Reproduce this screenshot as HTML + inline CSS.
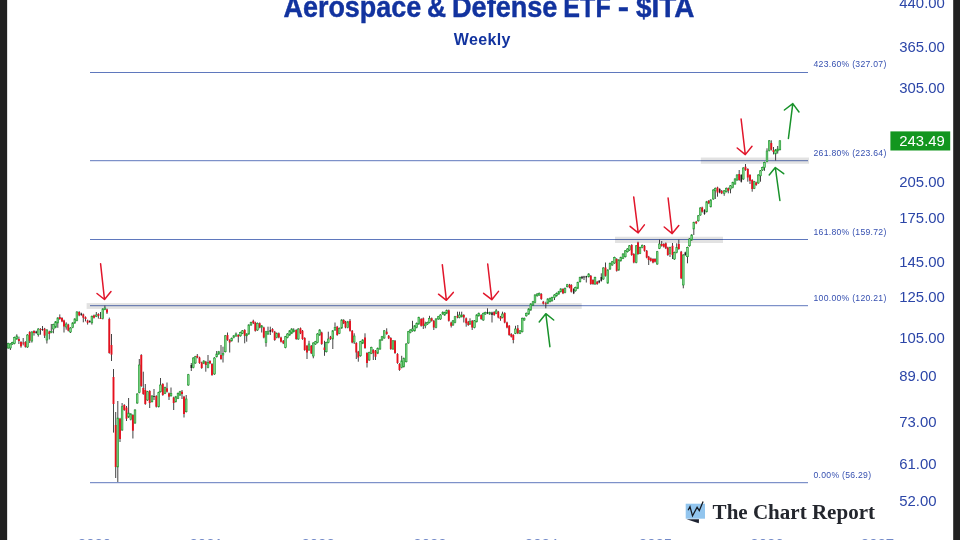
<!DOCTYPE html>
<html><head><meta charset="utf-8"><title>Aerospace &amp; Defense ETF - $ITA</title>
<style>
html,body{margin:0;padding:0;background:#fff;}
body{width:960px;height:540px;overflow:hidden;position:relative;font-family:"Liberation Sans",sans-serif;}
svg{position:absolute;left:0;top:0;display:block;will-change:transform;}
text{font-family:"Liberation Sans",sans-serif;}
.ax{font-size:14.2px;fill:#2c46a8;}
.fb{font-size:8.65px;fill:#3650b0;letter-spacing:0.28px;}
.yr{font-size:15px;fill:#7088c8;}
</style></head><body>
<svg width="960" height="540" viewBox="0 0 960 540">
<rect x="0" y="0" width="960" height="540" fill="#ffffff"/>

<line x1="90" y1="72.5" x2="808" y2="72.5" stroke="#5f78bd" stroke-width="1"/>
<text class="fb" x="813.5" y="67.2">423.60% (327.07)</text>
<line x1="90" y1="160.7" x2="808" y2="160.7" stroke="#5f78bd" stroke-width="1"/>
<text class="fb" x="813.5" y="155.8">261.80% (223.64)</text>
<line x1="90" y1="239.5" x2="808" y2="239.5" stroke="#5f78bd" stroke-width="1"/>
<text class="fb" x="813.5" y="234.6">161.80% (159.72)</text>
<line x1="90" y1="305.7" x2="808" y2="305.7" stroke="#5f78bd" stroke-width="1"/>
<text class="fb" x="813.5" y="300.6">100.00% (120.21)</text>
<line x1="90" y1="482.7" x2="808" y2="482.7" stroke="#5f78bd" stroke-width="1"/>
<text class="fb" x="813.5" y="477.6">0.00% (56.29)</text>
<rect x="86.6" y="303.1" width="495.1" height="5.8" fill="#000000" opacity="0.115"/>
<rect x="615.0" y="236.7" width="108.0" height="6.3" fill="#000000" opacity="0.115"/>
<rect x="700.8" y="157.5" width="108.2" height="6.3" fill="#000000" opacity="0.115"/>
<g>
<line x1="8.2" y1="342.7" x2="8.2" y2="348.8" stroke="#222222" stroke-width="0.85"/>
<rect x="7.35" y="343.5" width="1.7" height="4.5" fill="#84d48c" stroke="#1c9c2c" stroke-width="0.62"/>
<line x1="10.4" y1="343.2" x2="10.4" y2="350.0" stroke="#222222" stroke-width="0.85"/>
<rect x="9.55" y="344.0" width="1.7" height="4.0" fill="#84d48c" stroke="#1c9c2c" stroke-width="0.62"/>
<line x1="12.4" y1="341.8" x2="12.4" y2="344.8" stroke="#222222" stroke-width="0.85"/>
<rect x="11.55" y="342.6" width="1.7" height="1.4" fill="#84d48c" stroke="#1c9c2c" stroke-width="0.62"/>
<line x1="14.5" y1="336.7" x2="14.5" y2="344.3" stroke="#222222" stroke-width="0.85"/>
<rect x="13.65" y="337.5" width="1.7" height="6.0" fill="#84d48c" stroke="#1c9c2c" stroke-width="0.62"/>
<line x1="16.8" y1="334.3" x2="16.8" y2="339.8" stroke="#222222" stroke-width="0.85"/>
<rect x="15.95" y="336.0" width="1.7" height="3.0" fill="#84d48c" stroke="#1c9c2c" stroke-width="0.62"/>
<line x1="18.9" y1="336.6" x2="18.9" y2="344.0" stroke="#222222" stroke-width="0.85"/>
<rect x="17.95" y="339.0" width="1.9" height="2.0" fill="#e6101e"/>
<line x1="21.0" y1="341.2" x2="21.0" y2="347.7" stroke="#222222" stroke-width="0.85"/>
<rect x="20.05" y="342.0" width="1.9" height="4.3" fill="#e6101e"/>
<line x1="23.2" y1="338.0" x2="23.2" y2="345.4" stroke="#222222" stroke-width="0.85"/>
<rect x="22.25" y="342.6" width="1.9" height="0.9" fill="#e6101e"/>
<line x1="25.4" y1="341.2" x2="25.4" y2="347.6" stroke="#222222" stroke-width="0.85"/>
<rect x="24.45" y="342.0" width="1.9" height="4.8" fill="#e6101e"/>
<line x1="27.5" y1="334.2" x2="27.5" y2="347.8" stroke="#222222" stroke-width="0.85"/>
<rect x="26.65" y="335.0" width="1.7" height="12.0" fill="#84d48c" stroke="#1c9c2c" stroke-width="0.62"/>
<line x1="29.7" y1="331.2" x2="29.7" y2="343.0" stroke="#222222" stroke-width="0.85"/>
<rect x="28.75" y="332.0" width="1.9" height="8.7" fill="#e6101e"/>
<line x1="31.9" y1="331.2" x2="31.9" y2="342.6" stroke="#222222" stroke-width="0.85"/>
<rect x="31.05" y="332.0" width="1.7" height="9.0" fill="#84d48c" stroke="#1c9c2c" stroke-width="0.62"/>
<line x1="34.0" y1="330.2" x2="34.0" y2="335.6" stroke="#222222" stroke-width="0.85"/>
<rect x="33.05" y="331.0" width="1.9" height="2.0" fill="#e6101e"/>
<line x1="36.2" y1="330.7" x2="36.2" y2="333.8" stroke="#222222" stroke-width="0.85"/>
<rect x="35.45" y="331.5" width="1.5" height="1.5" fill="#222"/>
<line x1="38.3" y1="328.2" x2="38.3" y2="336.6" stroke="#222222" stroke-width="0.85"/>
<rect x="37.45" y="329.0" width="1.7" height="5.7" fill="#84d48c" stroke="#1c9c2c" stroke-width="0.62"/>
<line x1="40.5" y1="328.2" x2="40.5" y2="334.7" stroke="#222222" stroke-width="0.85"/>
<rect x="39.55" y="329.0" width="1.9" height="1.0" fill="#e6101e"/>
<line x1="42.5" y1="326.0" x2="42.5" y2="330.8" stroke="#222222" stroke-width="0.85"/>
<rect x="41.75" y="329.0" width="1.5" height="1.0" fill="#222"/>
<line x1="44.6" y1="327.9" x2="44.6" y2="338.0" stroke="#222222" stroke-width="0.85"/>
<rect x="43.65" y="328.7" width="1.9" height="6.9" fill="#e6101e"/>
<line x1="46.9" y1="329.2" x2="46.9" y2="343.5" stroke="#222222" stroke-width="0.85"/>
<rect x="46.05" y="330.0" width="1.7" height="10.0" fill="#84d48c" stroke="#1c9c2c" stroke-width="0.62"/>
<line x1="49.3" y1="330.7" x2="49.3" y2="339.4" stroke="#222222" stroke-width="0.85"/>
<rect x="48.35" y="331.5" width="1.9" height="2.5" fill="#e6101e"/>
<line x1="51.3" y1="324.0" x2="51.3" y2="333.2" stroke="#222222" stroke-width="0.85"/>
<rect x="50.45" y="331.5" width="1.7" height="0.9" fill="#84d48c" stroke="#1c9c2c" stroke-width="0.62"/>
<line x1="53.4" y1="323.7" x2="53.4" y2="333.3" stroke="#222222" stroke-width="0.85"/>
<rect x="52.55" y="324.5" width="1.7" height="4.5" fill="#84d48c" stroke="#1c9c2c" stroke-width="0.62"/>
<line x1="55.6" y1="321.0" x2="55.6" y2="328.2" stroke="#222222" stroke-width="0.85"/>
<rect x="54.75" y="321.8" width="1.7" height="5.5" fill="#84d48c" stroke="#1c9c2c" stroke-width="0.62"/>
<line x1="57.8" y1="317.2" x2="57.8" y2="327.8" stroke="#222222" stroke-width="0.85"/>
<rect x="56.95" y="318.0" width="1.7" height="5.0" fill="#84d48c" stroke="#1c9c2c" stroke-width="0.62"/>
<line x1="59.8" y1="314.4" x2="59.8" y2="319.8" stroke="#222222" stroke-width="0.85"/>
<rect x="58.85" y="317.0" width="1.9" height="2.0" fill="#e6101e"/>
<line x1="62.0" y1="317.2" x2="62.0" y2="322.2" stroke="#222222" stroke-width="0.85"/>
<rect x="61.05" y="318.0" width="1.9" height="3.4" fill="#e6101e"/>
<line x1="64.0" y1="319.7" x2="64.0" y2="332.5" stroke="#222222" stroke-width="0.85"/>
<rect x="63.05" y="320.5" width="1.9" height="6.0" fill="#e6101e"/>
<line x1="66.2" y1="322.3" x2="66.2" y2="329.7" stroke="#222222" stroke-width="0.85"/>
<rect x="65.35" y="324.0" width="1.7" height="3.0" fill="#84d48c" stroke="#1c9c2c" stroke-width="0.62"/>
<line x1="68.3" y1="323.8" x2="68.3" y2="331.4" stroke="#222222" stroke-width="0.85"/>
<rect x="67.35" y="324.6" width="1.9" height="6.0" fill="#e6101e"/>
<line x1="70.5" y1="327.2" x2="70.5" y2="333.0" stroke="#222222" stroke-width="0.85"/>
<rect x="69.65" y="328.0" width="1.7" height="4.0" fill="#84d48c" stroke="#1c9c2c" stroke-width="0.62"/>
<line x1="72.7" y1="322.2" x2="72.7" y2="328.2" stroke="#222222" stroke-width="0.85"/>
<rect x="71.85" y="323.0" width="1.7" height="4.4" fill="#84d48c" stroke="#1c9c2c" stroke-width="0.62"/>
<line x1="74.8" y1="318.2" x2="74.8" y2="323.8" stroke="#222222" stroke-width="0.85"/>
<rect x="73.95" y="319.0" width="1.7" height="4.0" fill="#84d48c" stroke="#1c9c2c" stroke-width="0.62"/>
<line x1="76.9" y1="311.2" x2="76.9" y2="321.3" stroke="#222222" stroke-width="0.85"/>
<rect x="76.05" y="312.0" width="1.7" height="8.5" fill="#84d48c" stroke="#1c9c2c" stroke-width="0.62"/>
<line x1="79.2" y1="311.2" x2="79.2" y2="316.2" stroke="#222222" stroke-width="0.85"/>
<rect x="78.25" y="312.0" width="1.9" height="3.4" fill="#e6101e"/>
<line x1="81.3" y1="312.7" x2="81.3" y2="315.8" stroke="#222222" stroke-width="0.85"/>
<rect x="80.55" y="313.5" width="1.5" height="1.5" fill="#222"/>
<line x1="83.3" y1="313.6" x2="83.3" y2="322.3" stroke="#222222" stroke-width="0.85"/>
<rect x="82.35" y="314.4" width="1.9" height="3.3" fill="#e6101e"/>
<line x1="85.5" y1="316.4" x2="85.5" y2="321.4" stroke="#222222" stroke-width="0.85"/>
<rect x="84.55" y="317.2" width="1.9" height="1.8" fill="#e6101e"/>
<line x1="87.6" y1="319.7" x2="87.6" y2="324.6" stroke="#222222" stroke-width="0.85"/>
<rect x="86.65" y="320.5" width="1.9" height="2.3" fill="#e6101e"/>
<line x1="89.8" y1="320.2" x2="89.8" y2="322.8" stroke="#222222" stroke-width="0.85"/>
<rect x="89.05" y="321.0" width="1.5" height="1.0" fill="#222"/>
<line x1="91.9" y1="315.5" x2="91.9" y2="324.6" stroke="#222222" stroke-width="0.85"/>
<rect x="91.05" y="316.3" width="1.7" height="6.5" fill="#84d48c" stroke="#1c9c2c" stroke-width="0.62"/>
<line x1="94.0" y1="314.6" x2="94.0" y2="318.5" stroke="#222222" stroke-width="0.85"/>
<rect x="93.05" y="315.4" width="1.9" height="2.3" fill="#e6101e"/>
<line x1="96.3" y1="312.0" x2="96.3" y2="317.1" stroke="#222222" stroke-width="0.85"/>
<rect x="95.45" y="315.0" width="1.7" height="1.3" fill="#84d48c" stroke="#1c9c2c" stroke-width="0.62"/>
<line x1="98.4" y1="313.2" x2="98.4" y2="318.6" stroke="#222222" stroke-width="0.85"/>
<rect x="97.45" y="314.0" width="1.9" height="1.8" fill="#e6101e"/>
<line x1="100.5" y1="312.0" x2="100.5" y2="319.0" stroke="#222222" stroke-width="0.85"/>
<rect x="99.55" y="318.0" width="1.9" height="1.0" fill="#e6101e"/>
<line x1="102.8" y1="308.2" x2="102.8" y2="319.4" stroke="#222222" stroke-width="0.85"/>
<rect x="101.95" y="309.0" width="1.7" height="9.6" fill="#84d48c" stroke="#1c9c2c" stroke-width="0.62"/>
<line x1="104.9" y1="305.6" x2="104.9" y2="310.2" stroke="#222222" stroke-width="0.85"/>
<rect x="104.05" y="308.0" width="1.7" height="1.4" fill="#84d48c" stroke="#1c9c2c" stroke-width="0.62"/>
<line x1="107.0" y1="308.6" x2="107.0" y2="314.0" stroke="#222222" stroke-width="0.85"/>
<rect x="106.05" y="309.4" width="1.9" height="3.2" fill="#e6101e"/>
<line x1="109.3" y1="317.6" x2="109.3" y2="353.7" stroke="#222222" stroke-width="0.85"/>
<rect x="108.35" y="319.0" width="1.9" height="34.0" fill="#e6101e"/>
<line x1="111.5" y1="334.0" x2="111.5" y2="361.0" stroke="#222222" stroke-width="0.85"/>
<rect x="110.55" y="345.0" width="1.9" height="9.6" fill="#e6101e"/>
<line x1="113.5" y1="369.0" x2="113.5" y2="432.6" stroke="#222222" stroke-width="0.85"/>
<rect x="112.55" y="377.0" width="1.9" height="27.0" fill="#e6101e"/>
<line x1="115.7" y1="412.0" x2="115.7" y2="478.0" stroke="#222222" stroke-width="0.85"/>
<rect x="114.75" y="425.0" width="1.9" height="42.0" fill="#e6101e"/>
<line x1="117.8" y1="401.0" x2="117.8" y2="482.0" stroke="#222222" stroke-width="0.85"/>
<rect x="116.95" y="418.0" width="1.7" height="49.0" fill="#84d48c" stroke="#1c9c2c" stroke-width="0.62"/>
<line x1="120.0" y1="417.9" x2="120.0" y2="442.0" stroke="#222222" stroke-width="0.85"/>
<rect x="119.05" y="418.7" width="1.9" height="20.3" fill="#e6101e"/>
<line x1="122.1" y1="403.0" x2="122.1" y2="430.8" stroke="#222222" stroke-width="0.85"/>
<rect x="121.25" y="406.7" width="1.7" height="23.3" fill="#84d48c" stroke="#1c9c2c" stroke-width="0.62"/>
<line x1="124.3" y1="404.2" x2="124.3" y2="410.8" stroke="#222222" stroke-width="0.85"/>
<rect x="123.35" y="405.0" width="1.9" height="5.0" fill="#e6101e"/>
<line x1="126.5" y1="406.0" x2="126.5" y2="421.0" stroke="#222222" stroke-width="0.85"/>
<rect x="125.55" y="407.6" width="1.9" height="11.1" fill="#e6101e"/>
<line x1="128.6" y1="398.0" x2="128.6" y2="418.0" stroke="#222222" stroke-width="0.85"/>
<rect x="127.75" y="413.0" width="1.7" height="4.0" fill="#84d48c" stroke="#1c9c2c" stroke-width="0.62"/>
<line x1="130.8" y1="413.2" x2="130.8" y2="420.4" stroke="#222222" stroke-width="0.85"/>
<rect x="129.95" y="414.0" width="1.7" height="5.6" fill="#84d48c" stroke="#1c9c2c" stroke-width="0.62"/>
<line x1="132.9" y1="414.2" x2="132.9" y2="438.5" stroke="#222222" stroke-width="0.85"/>
<rect x="131.95" y="415.0" width="1.9" height="15.7" fill="#e6101e"/>
<line x1="135.0" y1="409.2" x2="135.0" y2="423.8" stroke="#222222" stroke-width="0.85"/>
<rect x="134.15" y="410.0" width="1.7" height="13.0" fill="#84d48c" stroke="#1c9c2c" stroke-width="0.62"/>
<line x1="137.2" y1="393.2" x2="137.2" y2="403.8" stroke="#222222" stroke-width="0.85"/>
<rect x="136.35" y="394.0" width="1.7" height="9.0" fill="#84d48c" stroke="#1c9c2c" stroke-width="0.62"/>
<line x1="139.3" y1="359.0" x2="139.3" y2="393.3" stroke="#222222" stroke-width="0.85"/>
<rect x="138.45" y="365.0" width="1.7" height="27.5" fill="#84d48c" stroke="#1c9c2c" stroke-width="0.62"/>
<line x1="141.3" y1="354.2" x2="141.3" y2="386.8" stroke="#222222" stroke-width="0.85"/>
<rect x="140.35" y="355.0" width="1.9" height="31.0" fill="#e6101e"/>
<line x1="143.3" y1="371.7" x2="143.3" y2="394.8" stroke="#222222" stroke-width="0.85"/>
<rect x="142.35" y="388.0" width="1.9" height="6.0" fill="#e6101e"/>
<line x1="145.3" y1="384.0" x2="145.3" y2="404.8" stroke="#222222" stroke-width="0.85"/>
<rect x="144.35" y="390.0" width="1.9" height="14.0" fill="#e6101e"/>
<line x1="147.5" y1="390.9" x2="147.5" y2="400.8" stroke="#222222" stroke-width="0.85"/>
<rect x="146.65" y="391.7" width="1.7" height="8.3" fill="#84d48c" stroke="#1c9c2c" stroke-width="0.62"/>
<line x1="149.7" y1="390.2" x2="149.7" y2="408.0" stroke="#222222" stroke-width="0.85"/>
<rect x="148.75" y="391.0" width="1.9" height="12.0" fill="#e6101e"/>
<line x1="152.0" y1="395.2" x2="152.0" y2="402.5" stroke="#222222" stroke-width="0.85"/>
<rect x="151.15" y="396.0" width="1.7" height="5.7" fill="#84d48c" stroke="#1c9c2c" stroke-width="0.62"/>
<line x1="154.0" y1="389.0" x2="154.0" y2="400.0" stroke="#222222" stroke-width="0.85"/>
<rect x="153.25" y="396.0" width="1.5" height="1.0" fill="#222"/>
<line x1="156.3" y1="395.2" x2="156.3" y2="407.5" stroke="#222222" stroke-width="0.85"/>
<rect x="155.35" y="396.0" width="1.9" height="10.7" fill="#e6101e"/>
<line x1="158.7" y1="391.7" x2="158.7" y2="407.5" stroke="#222222" stroke-width="0.85"/>
<rect x="157.85" y="392.5" width="1.7" height="14.2" fill="#84d48c" stroke="#1c9c2c" stroke-width="0.62"/>
<line x1="160.5" y1="378.0" x2="160.5" y2="392.5" stroke="#222222" stroke-width="0.85"/>
<rect x="159.65" y="385.0" width="1.7" height="6.7" fill="#84d48c" stroke="#1c9c2c" stroke-width="0.62"/>
<line x1="162.8" y1="383.2" x2="162.8" y2="395.8" stroke="#222222" stroke-width="0.85"/>
<rect x="161.85" y="384.0" width="1.9" height="11.0" fill="#e6101e"/>
<line x1="165.0" y1="386.7" x2="165.0" y2="394.1" stroke="#222222" stroke-width="0.85"/>
<rect x="164.15" y="387.5" width="1.7" height="5.8" fill="#84d48c" stroke="#1c9c2c" stroke-width="0.62"/>
<line x1="167.0" y1="382.5" x2="167.0" y2="392.5" stroke="#222222" stroke-width="0.85"/>
<rect x="166.05" y="388.3" width="1.9" height="3.4" fill="#e6101e"/>
<line x1="169.0" y1="392.5" x2="169.0" y2="400.0" stroke="#222222" stroke-width="0.85"/>
<rect x="168.05" y="393.3" width="1.9" height="3.4" fill="#e6101e"/>
<line x1="171.0" y1="387.5" x2="171.0" y2="396.6" stroke="#222222" stroke-width="0.85"/>
<rect x="170.15" y="393.3" width="1.7" height="2.5" fill="#84d48c" stroke="#1c9c2c" stroke-width="0.62"/>
<line x1="173.7" y1="396.7" x2="173.7" y2="410.0" stroke="#222222" stroke-width="0.85"/>
<rect x="172.75" y="397.5" width="1.9" height="5.5" fill="#e6101e"/>
<line x1="175.8" y1="395.9" x2="175.8" y2="402.5" stroke="#222222" stroke-width="0.85"/>
<rect x="174.95" y="396.7" width="1.7" height="5.0" fill="#84d48c" stroke="#1c9c2c" stroke-width="0.62"/>
<line x1="178.0" y1="392.5" x2="178.0" y2="399.1" stroke="#222222" stroke-width="0.85"/>
<rect x="177.15" y="393.3" width="1.7" height="5.0" fill="#84d48c" stroke="#1c9c2c" stroke-width="0.62"/>
<line x1="180.0" y1="390.9" x2="180.0" y2="395.8" stroke="#222222" stroke-width="0.85"/>
<rect x="179.15" y="391.7" width="1.7" height="3.3" fill="#84d48c" stroke="#1c9c2c" stroke-width="0.62"/>
<line x1="182.0" y1="390.0" x2="182.0" y2="399.0" stroke="#222222" stroke-width="0.85"/>
<rect x="181.05" y="391.7" width="1.9" height="2.3" fill="#e6101e"/>
<line x1="184.0" y1="395.9" x2="184.0" y2="417.5" stroke="#222222" stroke-width="0.85"/>
<rect x="183.05" y="396.7" width="1.9" height="17.3" fill="#e6101e"/>
<line x1="186.2" y1="395.0" x2="186.2" y2="412.5" stroke="#222222" stroke-width="0.85"/>
<rect x="185.35" y="399.0" width="1.7" height="12.7" fill="#84d48c" stroke="#1c9c2c" stroke-width="0.62"/>
<line x1="188.3" y1="373.9" x2="188.3" y2="385.8" stroke="#222222" stroke-width="0.85"/>
<rect x="187.45" y="374.7" width="1.7" height="10.3" fill="#84d48c" stroke="#1c9c2c" stroke-width="0.62"/>
<line x1="191.3" y1="363.0" x2="191.3" y2="371.0" stroke="#222222" stroke-width="0.85"/>
<rect x="190.55" y="365.0" width="1.5" height="3.0" fill="#222"/>
<line x1="193.3" y1="357.2" x2="193.3" y2="368.3" stroke="#222222" stroke-width="0.85"/>
<rect x="192.45" y="358.0" width="1.7" height="9.5" fill="#84d48c" stroke="#1c9c2c" stroke-width="0.62"/>
<line x1="195.3" y1="355.9" x2="195.3" y2="363.8" stroke="#222222" stroke-width="0.85"/>
<rect x="194.45" y="356.7" width="1.7" height="6.3" fill="#84d48c" stroke="#1c9c2c" stroke-width="0.62"/>
<line x1="197.3" y1="354.0" x2="197.3" y2="358.3" stroke="#222222" stroke-width="0.85"/>
<rect x="196.35" y="355.8" width="1.9" height="1.7" fill="#e6101e"/>
<line x1="199.5" y1="356.7" x2="199.5" y2="363.8" stroke="#222222" stroke-width="0.85"/>
<rect x="198.55" y="357.5" width="1.9" height="5.5" fill="#e6101e"/>
<line x1="201.7" y1="361.7" x2="201.7" y2="368.8" stroke="#222222" stroke-width="0.85"/>
<rect x="200.75" y="362.5" width="1.9" height="5.5" fill="#e6101e"/>
<line x1="203.8" y1="360.2" x2="203.8" y2="364.1" stroke="#222222" stroke-width="0.85"/>
<rect x="202.95" y="361.0" width="1.7" height="2.3" fill="#84d48c" stroke="#1c9c2c" stroke-width="0.62"/>
<line x1="205.8" y1="360.9" x2="205.8" y2="371.7" stroke="#222222" stroke-width="0.85"/>
<rect x="204.85" y="361.7" width="1.9" height="3.3" fill="#e6101e"/>
<line x1="208.0" y1="355.0" x2="208.0" y2="368.3" stroke="#222222" stroke-width="0.85"/>
<rect x="207.15" y="362.5" width="1.7" height="5.0" fill="#84d48c" stroke="#1c9c2c" stroke-width="0.62"/>
<line x1="210.0" y1="360.2" x2="210.0" y2="364.1" stroke="#222222" stroke-width="0.85"/>
<rect x="209.05" y="361.0" width="1.9" height="2.3" fill="#e6101e"/>
<line x1="212.0" y1="363.2" x2="212.0" y2="375.8" stroke="#222222" stroke-width="0.85"/>
<rect x="211.05" y="364.0" width="1.9" height="11.0" fill="#e6101e"/>
<line x1="214.5" y1="357.2" x2="214.5" y2="374.8" stroke="#222222" stroke-width="0.85"/>
<rect x="213.65" y="358.0" width="1.7" height="16.0" fill="#84d48c" stroke="#1c9c2c" stroke-width="0.62"/>
<line x1="216.7" y1="351.0" x2="216.7" y2="357.5" stroke="#222222" stroke-width="0.85"/>
<rect x="215.85" y="354.0" width="1.7" height="2.7" fill="#84d48c" stroke="#1c9c2c" stroke-width="0.62"/>
<line x1="218.8" y1="350.9" x2="218.8" y2="354.8" stroke="#222222" stroke-width="0.85"/>
<rect x="217.95" y="351.7" width="1.7" height="2.3" fill="#84d48c" stroke="#1c9c2c" stroke-width="0.62"/>
<line x1="221.0" y1="345.0" x2="221.0" y2="359.8" stroke="#222222" stroke-width="0.85"/>
<rect x="220.05" y="355.0" width="1.9" height="4.0" fill="#e6101e"/>
<line x1="223.0" y1="346.7" x2="223.0" y2="362.5" stroke="#222222" stroke-width="0.85"/>
<rect x="222.15" y="353.3" width="1.7" height="1.7" fill="#84d48c" stroke="#1c9c2c" stroke-width="0.62"/>
<line x1="225.3" y1="335.0" x2="225.3" y2="352.5" stroke="#222222" stroke-width="0.85"/>
<rect x="224.45" y="335.8" width="1.7" height="15.9" fill="#84d48c" stroke="#1c9c2c" stroke-width="0.62"/>
<line x1="227.5" y1="332.5" x2="227.5" y2="340.8" stroke="#222222" stroke-width="0.85"/>
<rect x="226.55" y="335.0" width="1.9" height="5.0" fill="#e6101e"/>
<line x1="229.7" y1="339.2" x2="229.7" y2="352.5" stroke="#222222" stroke-width="0.85"/>
<rect x="228.75" y="340.0" width="1.9" height="2.5" fill="#e6101e"/>
<line x1="231.7" y1="337.5" x2="231.7" y2="341.6" stroke="#222222" stroke-width="0.85"/>
<rect x="230.85" y="338.3" width="1.7" height="2.5" fill="#84d48c" stroke="#1c9c2c" stroke-width="0.62"/>
<line x1="233.8" y1="335.0" x2="233.8" y2="338.3" stroke="#222222" stroke-width="0.85"/>
<rect x="232.95" y="335.8" width="1.7" height="1.7" fill="#84d48c" stroke="#1c9c2c" stroke-width="0.62"/>
<line x1="236.0" y1="332.5" x2="236.0" y2="336.8" stroke="#222222" stroke-width="0.85"/>
<rect x="235.15" y="334.0" width="1.7" height="2.0" fill="#84d48c" stroke="#1c9c2c" stroke-width="0.62"/>
<line x1="238.3" y1="334.2" x2="238.3" y2="342.5" stroke="#222222" stroke-width="0.85"/>
<rect x="237.35" y="335.0" width="1.9" height="1.7" fill="#e6101e"/>
<line x1="240.5" y1="331.7" x2="240.5" y2="336.6" stroke="#222222" stroke-width="0.85"/>
<rect x="239.65" y="332.5" width="1.7" height="3.3" fill="#84d48c" stroke="#1c9c2c" stroke-width="0.62"/>
<line x1="242.5" y1="330.0" x2="242.5" y2="334.1" stroke="#222222" stroke-width="0.85"/>
<rect x="241.65" y="330.8" width="1.7" height="2.5" fill="#84d48c" stroke="#1c9c2c" stroke-width="0.62"/>
<line x1="244.7" y1="329.2" x2="244.7" y2="343.3" stroke="#222222" stroke-width="0.85"/>
<rect x="243.75" y="330.0" width="1.9" height="5.8" fill="#e6101e"/>
<line x1="246.7" y1="333.2" x2="246.7" y2="341.7" stroke="#222222" stroke-width="0.85"/>
<rect x="245.85" y="334.0" width="1.7" height="1.8" fill="#84d48c" stroke="#1c9c2c" stroke-width="0.62"/>
<line x1="248.8" y1="324.2" x2="248.8" y2="334.8" stroke="#222222" stroke-width="0.85"/>
<rect x="247.95" y="325.0" width="1.7" height="9.0" fill="#84d48c" stroke="#1c9c2c" stroke-width="0.62"/>
<line x1="251.0" y1="321.7" x2="251.0" y2="325.8" stroke="#222222" stroke-width="0.85"/>
<rect x="250.15" y="322.5" width="1.7" height="2.5" fill="#84d48c" stroke="#1c9c2c" stroke-width="0.62"/>
<line x1="253.3" y1="319.7" x2="253.3" y2="324.1" stroke="#222222" stroke-width="0.85"/>
<rect x="252.35" y="320.8" width="1.9" height="2.5" fill="#e6101e"/>
<line x1="255.3" y1="321.7" x2="255.3" y2="331.6" stroke="#222222" stroke-width="0.85"/>
<rect x="254.35" y="322.5" width="1.9" height="8.3" fill="#e6101e"/>
<line x1="257.5" y1="322.5" x2="257.5" y2="330.8" stroke="#222222" stroke-width="0.85"/>
<rect x="256.65" y="323.3" width="1.7" height="6.7" fill="#84d48c" stroke="#1c9c2c" stroke-width="0.62"/>
<line x1="259.7" y1="322.5" x2="259.7" y2="328.3" stroke="#222222" stroke-width="0.85"/>
<rect x="258.75" y="323.3" width="1.9" height="4.2" fill="#e6101e"/>
<line x1="261.7" y1="325.0" x2="261.7" y2="332.5" stroke="#222222" stroke-width="0.85"/>
<rect x="260.85" y="325.8" width="1.7" height="1.7" fill="#84d48c" stroke="#1c9c2c" stroke-width="0.62"/>
<line x1="263.8" y1="326.7" x2="263.8" y2="338.3" stroke="#222222" stroke-width="0.85"/>
<rect x="262.85" y="327.5" width="1.9" height="10.0" fill="#e6101e"/>
<line x1="266.0" y1="330.9" x2="266.0" y2="346.7" stroke="#222222" stroke-width="0.85"/>
<rect x="265.15" y="331.7" width="1.7" height="10.8" fill="#84d48c" stroke="#1c9c2c" stroke-width="0.62"/>
<line x1="268.0" y1="326.7" x2="268.0" y2="334.8" stroke="#222222" stroke-width="0.85"/>
<rect x="267.15" y="331.7" width="1.7" height="2.3" fill="#84d48c" stroke="#1c9c2c" stroke-width="0.62"/>
<line x1="270.3" y1="326.7" x2="270.3" y2="335.0" stroke="#222222" stroke-width="0.85"/>
<rect x="269.55" y="330.0" width="1.5" height="2.0" fill="#222"/>
<line x1="272.5" y1="328.2" x2="272.5" y2="332.5" stroke="#222222" stroke-width="0.85"/>
<rect x="271.55" y="329.0" width="1.9" height="2.7" fill="#e6101e"/>
<line x1="274.7" y1="330.9" x2="274.7" y2="340.8" stroke="#222222" stroke-width="0.85"/>
<rect x="273.75" y="331.7" width="1.9" height="8.3" fill="#e6101e"/>
<line x1="276.7" y1="332.5" x2="276.7" y2="338.3" stroke="#222222" stroke-width="0.85"/>
<rect x="275.85" y="333.3" width="1.7" height="4.2" fill="#84d48c" stroke="#1c9c2c" stroke-width="0.62"/>
<line x1="278.8" y1="332.5" x2="278.8" y2="338.3" stroke="#222222" stroke-width="0.85"/>
<rect x="277.85" y="333.3" width="1.9" height="4.2" fill="#e6101e"/>
<line x1="281.0" y1="336.7" x2="281.0" y2="342.5" stroke="#222222" stroke-width="0.85"/>
<rect x="280.05" y="337.5" width="1.9" height="4.2" fill="#e6101e"/>
<line x1="283.3" y1="340.0" x2="283.3" y2="344.1" stroke="#222222" stroke-width="0.85"/>
<rect x="282.35" y="340.8" width="1.9" height="2.5" fill="#e6101e"/>
<line x1="285.5" y1="335.9" x2="285.5" y2="348.3" stroke="#222222" stroke-width="0.85"/>
<rect x="284.65" y="336.7" width="1.7" height="10.8" fill="#84d48c" stroke="#1c9c2c" stroke-width="0.62"/>
<line x1="287.5" y1="333.2" x2="287.5" y2="338.3" stroke="#222222" stroke-width="0.85"/>
<rect x="286.65" y="334.0" width="1.7" height="3.5" fill="#84d48c" stroke="#1c9c2c" stroke-width="0.62"/>
<line x1="289.7" y1="330.0" x2="289.7" y2="335.8" stroke="#222222" stroke-width="0.85"/>
<rect x="288.85" y="330.8" width="1.7" height="4.2" fill="#84d48c" stroke="#1c9c2c" stroke-width="0.62"/>
<line x1="291.7" y1="328.2" x2="291.7" y2="334.1" stroke="#222222" stroke-width="0.85"/>
<rect x="290.85" y="329.0" width="1.7" height="4.3" fill="#84d48c" stroke="#1c9c2c" stroke-width="0.62"/>
<line x1="293.7" y1="328.3" x2="293.7" y2="332.5" stroke="#222222" stroke-width="0.85"/>
<rect x="292.85" y="330.0" width="1.7" height="1.7" fill="#84d48c" stroke="#1c9c2c" stroke-width="0.62"/>
<line x1="296.2" y1="329.2" x2="296.2" y2="339.8" stroke="#222222" stroke-width="0.85"/>
<rect x="295.25" y="330.0" width="1.9" height="9.0" fill="#e6101e"/>
<line x1="298.3" y1="328.2" x2="298.3" y2="339.8" stroke="#222222" stroke-width="0.85"/>
<rect x="297.45" y="329.0" width="1.7" height="10.0" fill="#84d48c" stroke="#1c9c2c" stroke-width="0.62"/>
<line x1="300.5" y1="327.5" x2="300.5" y2="334.1" stroke="#222222" stroke-width="0.85"/>
<rect x="299.55" y="328.3" width="1.9" height="5.0" fill="#e6101e"/>
<line x1="302.5" y1="330.0" x2="302.5" y2="339.8" stroke="#222222" stroke-width="0.85"/>
<rect x="301.55" y="330.8" width="1.9" height="8.2" fill="#e6101e"/>
<line x1="304.7" y1="337.2" x2="304.7" y2="350.8" stroke="#222222" stroke-width="0.85"/>
<rect x="303.75" y="338.0" width="1.9" height="12.0" fill="#e6101e"/>
<line x1="307.0" y1="345.0" x2="307.0" y2="359.0" stroke="#222222" stroke-width="0.85"/>
<rect x="306.05" y="345.8" width="1.9" height="6.7" fill="#e6101e"/>
<line x1="309.0" y1="340.8" x2="309.0" y2="350.8" stroke="#222222" stroke-width="0.85"/>
<rect x="308.15" y="344.0" width="1.7" height="6.0" fill="#84d48c" stroke="#1c9c2c" stroke-width="0.62"/>
<line x1="311.3" y1="345.0" x2="311.3" y2="354.1" stroke="#222222" stroke-width="0.85"/>
<rect x="310.35" y="345.8" width="1.9" height="7.5" fill="#e6101e"/>
<line x1="313.3" y1="342.2" x2="313.3" y2="358.3" stroke="#222222" stroke-width="0.85"/>
<rect x="312.45" y="343.0" width="1.7" height="13.0" fill="#84d48c" stroke="#1c9c2c" stroke-width="0.62"/>
<line x1="315.5" y1="340.9" x2="315.5" y2="344.8" stroke="#222222" stroke-width="0.85"/>
<rect x="314.65" y="341.7" width="1.7" height="2.3" fill="#84d48c" stroke="#1c9c2c" stroke-width="0.62"/>
<line x1="317.5" y1="333.2" x2="317.5" y2="343.3" stroke="#222222" stroke-width="0.85"/>
<rect x="316.65" y="334.0" width="1.7" height="8.5" fill="#84d48c" stroke="#1c9c2c" stroke-width="0.62"/>
<line x1="319.7" y1="329.2" x2="319.7" y2="335.8" stroke="#222222" stroke-width="0.85"/>
<rect x="318.85" y="330.0" width="1.7" height="5.0" fill="#84d48c" stroke="#1c9c2c" stroke-width="0.62"/>
<line x1="321.7" y1="331.7" x2="321.7" y2="344.8" stroke="#222222" stroke-width="0.85"/>
<rect x="320.75" y="332.5" width="1.9" height="11.5" fill="#e6101e"/>
<line x1="324.5" y1="340.8" x2="324.5" y2="355.8" stroke="#222222" stroke-width="0.85"/>
<rect x="323.55" y="347.5" width="1.9" height="2.5" fill="#e6101e"/>
<line x1="326.3" y1="341.7" x2="326.3" y2="352.5" stroke="#222222" stroke-width="0.85"/>
<rect x="325.45" y="342.5" width="1.7" height="9.2" fill="#84d48c" stroke="#1c9c2c" stroke-width="0.62"/>
<line x1="328.3" y1="331.7" x2="328.3" y2="343.3" stroke="#222222" stroke-width="0.85"/>
<rect x="327.45" y="339.0" width="1.7" height="3.5" fill="#84d48c" stroke="#1c9c2c" stroke-width="0.62"/>
<line x1="330.5" y1="335.9" x2="330.5" y2="339.8" stroke="#222222" stroke-width="0.85"/>
<rect x="329.55" y="336.7" width="1.9" height="2.3" fill="#e6101e"/>
<line x1="332.8" y1="330.0" x2="332.8" y2="349.0" stroke="#222222" stroke-width="0.85"/>
<rect x="331.95" y="330.8" width="1.7" height="8.2" fill="#84d48c" stroke="#1c9c2c" stroke-width="0.62"/>
<line x1="335.0" y1="322.5" x2="335.0" y2="330.8" stroke="#222222" stroke-width="0.85"/>
<rect x="334.15" y="327.5" width="1.7" height="2.5" fill="#84d48c" stroke="#1c9c2c" stroke-width="0.62"/>
<line x1="337.2" y1="325.9" x2="337.2" y2="335.8" stroke="#222222" stroke-width="0.85"/>
<rect x="336.25" y="326.7" width="1.9" height="8.3" fill="#e6101e"/>
<line x1="339.3" y1="327.5" x2="339.3" y2="334.1" stroke="#222222" stroke-width="0.85"/>
<rect x="338.45" y="328.3" width="1.7" height="5.0" fill="#84d48c" stroke="#1c9c2c" stroke-width="0.62"/>
<line x1="341.7" y1="319.2" x2="341.7" y2="328.8" stroke="#222222" stroke-width="0.85"/>
<rect x="340.85" y="320.0" width="1.7" height="8.0" fill="#84d48c" stroke="#1c9c2c" stroke-width="0.62"/>
<line x1="343.7" y1="319.2" x2="343.7" y2="324.1" stroke="#222222" stroke-width="0.85"/>
<rect x="342.75" y="320.0" width="1.9" height="3.3" fill="#e6101e"/>
<line x1="345.5" y1="320.9" x2="345.5" y2="328.3" stroke="#222222" stroke-width="0.85"/>
<rect x="344.55" y="321.7" width="1.9" height="5.8" fill="#e6101e"/>
<line x1="347.8" y1="320.9" x2="347.8" y2="328.3" stroke="#222222" stroke-width="0.85"/>
<rect x="346.95" y="321.7" width="1.7" height="5.8" fill="#84d48c" stroke="#1c9c2c" stroke-width="0.62"/>
<line x1="350.0" y1="319.0" x2="350.0" y2="331.6" stroke="#222222" stroke-width="0.85"/>
<rect x="349.05" y="320.8" width="1.9" height="10.0" fill="#e6101e"/>
<line x1="352.2" y1="330.0" x2="352.2" y2="343.3" stroke="#222222" stroke-width="0.85"/>
<rect x="351.25" y="330.8" width="1.9" height="11.7" fill="#e6101e"/>
<line x1="354.2" y1="333.3" x2="354.2" y2="344.0" stroke="#222222" stroke-width="0.85"/>
<rect x="353.35" y="336.0" width="1.7" height="6.0" fill="#84d48c" stroke="#1c9c2c" stroke-width="0.62"/>
<line x1="356.3" y1="342.2" x2="356.3" y2="359.0" stroke="#222222" stroke-width="0.85"/>
<rect x="355.35" y="343.0" width="1.9" height="9.5" fill="#e6101e"/>
<line x1="358.3" y1="350.9" x2="358.3" y2="361.7" stroke="#222222" stroke-width="0.85"/>
<rect x="357.35" y="351.7" width="1.9" height="5.8" fill="#e6101e"/>
<line x1="360.5" y1="340.9" x2="360.5" y2="356.6" stroke="#222222" stroke-width="0.85"/>
<rect x="359.65" y="341.7" width="1.7" height="14.1" fill="#84d48c" stroke="#1c9c2c" stroke-width="0.62"/>
<line x1="362.7" y1="339.2" x2="362.7" y2="344.1" stroke="#222222" stroke-width="0.85"/>
<rect x="361.85" y="340.0" width="1.7" height="3.3" fill="#84d48c" stroke="#1c9c2c" stroke-width="0.62"/>
<line x1="365.0" y1="333.3" x2="365.0" y2="348.8" stroke="#222222" stroke-width="0.85"/>
<rect x="364.05" y="337.5" width="1.9" height="10.5" fill="#e6101e"/>
<line x1="367.0" y1="352.2" x2="367.0" y2="367.5" stroke="#222222" stroke-width="0.85"/>
<rect x="366.05" y="353.0" width="1.9" height="10.0" fill="#e6101e"/>
<line x1="369.2" y1="351.7" x2="369.2" y2="360.8" stroke="#222222" stroke-width="0.85"/>
<rect x="368.35" y="352.5" width="1.7" height="7.5" fill="#84d48c" stroke="#1c9c2c" stroke-width="0.62"/>
<line x1="371.3" y1="346.7" x2="371.3" y2="354.1" stroke="#222222" stroke-width="0.85"/>
<rect x="370.45" y="347.5" width="1.7" height="5.8" fill="#84d48c" stroke="#1c9c2c" stroke-width="0.62"/>
<line x1="373.3" y1="349.2" x2="373.3" y2="360.0" stroke="#222222" stroke-width="0.85"/>
<rect x="372.35" y="350.0" width="1.9" height="3.3" fill="#e6101e"/>
<line x1="375.5" y1="350.0" x2="375.5" y2="360.0" stroke="#222222" stroke-width="0.85"/>
<rect x="374.55" y="350.8" width="1.9" height="5.9" fill="#e6101e"/>
<line x1="377.7" y1="347.5" x2="377.7" y2="354.1" stroke="#222222" stroke-width="0.85"/>
<rect x="376.85" y="348.3" width="1.7" height="5.0" fill="#84d48c" stroke="#1c9c2c" stroke-width="0.62"/>
<line x1="380.0" y1="339.2" x2="380.0" y2="349.8" stroke="#222222" stroke-width="0.85"/>
<rect x="379.15" y="340.0" width="1.7" height="9.0" fill="#84d48c" stroke="#1c9c2c" stroke-width="0.62"/>
<line x1="382.0" y1="335.9" x2="382.0" y2="340.8" stroke="#222222" stroke-width="0.85"/>
<rect x="381.15" y="336.7" width="1.7" height="3.3" fill="#84d48c" stroke="#1c9c2c" stroke-width="0.62"/>
<line x1="384.2" y1="330.0" x2="384.2" y2="338.8" stroke="#222222" stroke-width="0.85"/>
<rect x="383.35" y="330.8" width="1.7" height="7.2" fill="#84d48c" stroke="#1c9c2c" stroke-width="0.62"/>
<line x1="386.7" y1="328.3" x2="386.7" y2="334.8" stroke="#222222" stroke-width="0.85"/>
<rect x="385.75" y="331.7" width="1.9" height="2.3" fill="#e6101e"/>
<line x1="388.7" y1="335.0" x2="388.7" y2="339.1" stroke="#222222" stroke-width="0.85"/>
<rect x="387.75" y="335.8" width="1.9" height="2.5" fill="#e6101e"/>
<line x1="390.8" y1="337.2" x2="390.8" y2="349.8" stroke="#222222" stroke-width="0.85"/>
<rect x="389.85" y="338.0" width="1.9" height="11.0" fill="#e6101e"/>
<line x1="393.0" y1="340.0" x2="393.0" y2="349.8" stroke="#222222" stroke-width="0.85"/>
<rect x="392.15" y="340.8" width="1.7" height="8.2" fill="#84d48c" stroke="#1c9c2c" stroke-width="0.62"/>
<line x1="395.0" y1="340.0" x2="395.0" y2="353.8" stroke="#222222" stroke-width="0.85"/>
<rect x="394.05" y="340.8" width="1.9" height="12.2" fill="#e6101e"/>
<line x1="397.5" y1="353.2" x2="397.5" y2="363.8" stroke="#222222" stroke-width="0.85"/>
<rect x="396.55" y="354.0" width="1.9" height="9.0" fill="#e6101e"/>
<line x1="399.5" y1="363.2" x2="399.5" y2="370.8" stroke="#222222" stroke-width="0.85"/>
<rect x="398.55" y="364.0" width="1.9" height="6.0" fill="#e6101e"/>
<line x1="401.7" y1="355.8" x2="401.7" y2="368.3" stroke="#222222" stroke-width="0.85"/>
<rect x="400.85" y="360.8" width="1.7" height="6.7" fill="#84d48c" stroke="#1c9c2c" stroke-width="0.62"/>
<line x1="403.8" y1="357.5" x2="403.8" y2="367.5" stroke="#222222" stroke-width="0.85"/>
<rect x="402.95" y="358.3" width="1.7" height="8.4" fill="#84d48c" stroke="#1c9c2c" stroke-width="0.62"/>
<line x1="406.2" y1="343.2" x2="406.2" y2="362.5" stroke="#222222" stroke-width="0.85"/>
<rect x="405.35" y="344.0" width="1.7" height="17.7" fill="#84d48c" stroke="#1c9c2c" stroke-width="0.62"/>
<line x1="408.3" y1="330.9" x2="408.3" y2="343.8" stroke="#222222" stroke-width="0.85"/>
<rect x="407.45" y="331.7" width="1.7" height="11.3" fill="#84d48c" stroke="#1c9c2c" stroke-width="0.62"/>
<line x1="410.3" y1="329.2" x2="410.3" y2="333.3" stroke="#222222" stroke-width="0.85"/>
<rect x="409.45" y="330.0" width="1.7" height="2.5" fill="#84d48c" stroke="#1c9c2c" stroke-width="0.62"/>
<line x1="412.5" y1="320.8" x2="412.5" y2="331.7" stroke="#222222" stroke-width="0.85"/>
<rect x="411.65" y="329.0" width="1.7" height="1.8" fill="#84d48c" stroke="#1c9c2c" stroke-width="0.62"/>
<line x1="414.7" y1="325.0" x2="414.7" y2="331.6" stroke="#222222" stroke-width="0.85"/>
<rect x="413.85" y="325.8" width="1.7" height="5.0" fill="#84d48c" stroke="#1c9c2c" stroke-width="0.62"/>
<line x1="416.7" y1="322.5" x2="416.7" y2="328.3" stroke="#222222" stroke-width="0.85"/>
<rect x="415.85" y="323.3" width="1.7" height="4.2" fill="#84d48c" stroke="#1c9c2c" stroke-width="0.62"/>
<line x1="418.8" y1="316.7" x2="418.8" y2="324.8" stroke="#222222" stroke-width="0.85"/>
<rect x="417.95" y="317.5" width="1.7" height="6.5" fill="#84d48c" stroke="#1c9c2c" stroke-width="0.62"/>
<line x1="421.2" y1="318.2" x2="421.2" y2="326.6" stroke="#222222" stroke-width="0.85"/>
<rect x="420.25" y="319.0" width="1.9" height="6.8" fill="#e6101e"/>
<line x1="423.3" y1="317.5" x2="423.3" y2="329.0" stroke="#222222" stroke-width="0.85"/>
<rect x="422.35" y="318.3" width="1.9" height="7.5" fill="#e6101e"/>
<line x1="425.3" y1="321.7" x2="425.3" y2="328.3" stroke="#222222" stroke-width="0.85"/>
<rect x="424.45" y="324.0" width="1.7" height="1.8" fill="#84d48c" stroke="#1c9c2c" stroke-width="0.62"/>
<line x1="427.5" y1="321.7" x2="427.5" y2="324.8" stroke="#222222" stroke-width="0.85"/>
<rect x="426.65" y="322.5" width="1.7" height="1.5" fill="#84d48c" stroke="#1c9c2c" stroke-width="0.62"/>
<line x1="429.5" y1="315.8" x2="429.5" y2="323.3" stroke="#222222" stroke-width="0.85"/>
<rect x="428.65" y="318.3" width="1.7" height="4.2" fill="#84d48c" stroke="#1c9c2c" stroke-width="0.62"/>
<line x1="431.7" y1="317.5" x2="431.7" y2="321.6" stroke="#222222" stroke-width="0.85"/>
<rect x="430.75" y="318.3" width="1.9" height="2.5" fill="#e6101e"/>
<line x1="433.8" y1="320.0" x2="433.8" y2="330.0" stroke="#222222" stroke-width="0.85"/>
<rect x="432.85" y="320.8" width="1.9" height="6.7" fill="#e6101e"/>
<line x1="436.0" y1="318.2" x2="436.0" y2="328.3" stroke="#222222" stroke-width="0.85"/>
<rect x="435.15" y="319.0" width="1.7" height="8.5" fill="#84d48c" stroke="#1c9c2c" stroke-width="0.62"/>
<line x1="438.3" y1="315.9" x2="438.3" y2="319.8" stroke="#222222" stroke-width="0.85"/>
<rect x="437.45" y="316.7" width="1.7" height="2.3" fill="#84d48c" stroke="#1c9c2c" stroke-width="0.62"/>
<line x1="440.5" y1="314.2" x2="440.5" y2="319.8" stroke="#222222" stroke-width="0.85"/>
<rect x="439.65" y="315.0" width="1.7" height="4.0" fill="#84d48c" stroke="#1c9c2c" stroke-width="0.62"/>
<line x1="442.8" y1="311.3" x2="442.8" y2="314.8" stroke="#222222" stroke-width="0.85"/>
<rect x="441.95" y="312.5" width="1.7" height="1.5" fill="#84d48c" stroke="#1c9c2c" stroke-width="0.62"/>
<line x1="444.7" y1="311.7" x2="444.7" y2="315.8" stroke="#222222" stroke-width="0.85"/>
<rect x="443.85" y="312.5" width="1.7" height="2.5" fill="#84d48c" stroke="#1c9c2c" stroke-width="0.62"/>
<line x1="446.7" y1="309.5" x2="446.7" y2="314.1" stroke="#222222" stroke-width="0.85"/>
<rect x="445.85" y="310.3" width="1.7" height="3.0" fill="#84d48c" stroke="#1c9c2c" stroke-width="0.62"/>
<line x1="448.8" y1="309.5" x2="448.8" y2="321.6" stroke="#222222" stroke-width="0.85"/>
<rect x="447.85" y="310.3" width="1.9" height="10.5" fill="#e6101e"/>
<line x1="451.2" y1="321.7" x2="451.2" y2="327.5" stroke="#222222" stroke-width="0.85"/>
<rect x="450.25" y="322.5" width="1.9" height="3.3" fill="#e6101e"/>
<line x1="453.0" y1="320.0" x2="453.0" y2="325.8" stroke="#222222" stroke-width="0.85"/>
<rect x="452.15" y="320.8" width="1.7" height="4.2" fill="#84d48c" stroke="#1c9c2c" stroke-width="0.62"/>
<line x1="455.0" y1="315.9" x2="455.0" y2="323.3" stroke="#222222" stroke-width="0.85"/>
<rect x="454.15" y="316.7" width="1.7" height="5.8" fill="#84d48c" stroke="#1c9c2c" stroke-width="0.62"/>
<line x1="457.5" y1="311.7" x2="457.5" y2="318.3" stroke="#222222" stroke-width="0.85"/>
<rect x="456.55" y="315.8" width="1.9" height="1.7" fill="#e6101e"/>
<line x1="459.5" y1="311.7" x2="459.5" y2="318.3" stroke="#222222" stroke-width="0.85"/>
<rect x="458.65" y="315.0" width="1.7" height="2.5" fill="#84d48c" stroke="#1c9c2c" stroke-width="0.62"/>
<line x1="461.7" y1="311.7" x2="461.7" y2="317.5" stroke="#222222" stroke-width="0.85"/>
<rect x="460.85" y="315.0" width="1.7" height="1.7" fill="#84d48c" stroke="#1c9c2c" stroke-width="0.62"/>
<line x1="463.8" y1="314.2" x2="463.8" y2="322.5" stroke="#222222" stroke-width="0.85"/>
<rect x="462.85" y="315.0" width="1.9" height="2.5" fill="#e6101e"/>
<line x1="466.2" y1="317.5" x2="466.2" y2="326.7" stroke="#222222" stroke-width="0.85"/>
<rect x="465.25" y="318.3" width="1.9" height="5.0" fill="#e6101e"/>
<line x1="468.3" y1="320.9" x2="468.3" y2="325.8" stroke="#222222" stroke-width="0.85"/>
<rect x="467.35" y="321.7" width="1.9" height="3.3" fill="#e6101e"/>
<line x1="470.0" y1="318.3" x2="470.0" y2="324.8" stroke="#222222" stroke-width="0.85"/>
<rect x="469.15" y="321.7" width="1.7" height="2.3" fill="#84d48c" stroke="#1c9c2c" stroke-width="0.62"/>
<line x1="472.2" y1="320.0" x2="472.2" y2="330.0" stroke="#222222" stroke-width="0.85"/>
<rect x="471.25" y="320.8" width="1.9" height="6.7" fill="#e6101e"/>
<line x1="474.5" y1="320.0" x2="474.5" y2="328.3" stroke="#222222" stroke-width="0.85"/>
<rect x="473.65" y="320.8" width="1.7" height="6.7" fill="#84d48c" stroke="#1c9c2c" stroke-width="0.62"/>
<line x1="476.7" y1="314.2" x2="476.7" y2="322.5" stroke="#222222" stroke-width="0.85"/>
<rect x="475.85" y="315.0" width="1.7" height="6.7" fill="#84d48c" stroke="#1c9c2c" stroke-width="0.62"/>
<line x1="478.8" y1="312.5" x2="478.8" y2="316.6" stroke="#222222" stroke-width="0.85"/>
<rect x="477.95" y="313.3" width="1.7" height="2.5" fill="#84d48c" stroke="#1c9c2c" stroke-width="0.62"/>
<line x1="481.2" y1="314.2" x2="481.2" y2="319.8" stroke="#222222" stroke-width="0.85"/>
<rect x="480.25" y="315.0" width="1.9" height="4.0" fill="#e6101e"/>
<line x1="483.3" y1="312.5" x2="483.3" y2="320.8" stroke="#222222" stroke-width="0.85"/>
<rect x="482.45" y="313.3" width="1.7" height="6.7" fill="#84d48c" stroke="#1c9c2c" stroke-width="0.62"/>
<line x1="485.3" y1="311.7" x2="485.3" y2="314.8" stroke="#222222" stroke-width="0.85"/>
<rect x="484.45" y="312.5" width="1.7" height="1.5" fill="#84d48c" stroke="#1c9c2c" stroke-width="0.62"/>
<line x1="487.5" y1="308.3" x2="487.5" y2="314.1" stroke="#222222" stroke-width="0.85"/>
<rect x="486.75" y="312.0" width="1.5" height="1.3" fill="#222"/>
<line x1="489.7" y1="311.7" x2="489.7" y2="314.8" stroke="#222222" stroke-width="0.85"/>
<rect x="488.85" y="312.5" width="1.7" height="1.5" fill="#84d48c" stroke="#1c9c2c" stroke-width="0.62"/>
<line x1="492.0" y1="311.7" x2="492.0" y2="322.5" stroke="#222222" stroke-width="0.85"/>
<rect x="491.25" y="312.5" width="1.5" height="2.5" fill="#222"/>
<line x1="494.2" y1="311.2" x2="494.2" y2="315.8" stroke="#222222" stroke-width="0.85"/>
<rect x="493.25" y="312.0" width="1.9" height="3.0" fill="#e6101e"/>
<line x1="496.2" y1="309.0" x2="496.2" y2="314.1" stroke="#222222" stroke-width="0.85"/>
<rect x="495.35" y="310.8" width="1.7" height="2.5" fill="#84d48c" stroke="#1c9c2c" stroke-width="0.62"/>
<line x1="498.3" y1="310.9" x2="498.3" y2="318.3" stroke="#222222" stroke-width="0.85"/>
<rect x="497.35" y="311.7" width="1.9" height="5.8" fill="#e6101e"/>
<line x1="500.5" y1="315.9" x2="500.5" y2="320.8" stroke="#222222" stroke-width="0.85"/>
<rect x="499.55" y="316.7" width="1.9" height="2.3" fill="#e6101e"/>
<line x1="502.5" y1="311.7" x2="502.5" y2="318.3" stroke="#222222" stroke-width="0.85"/>
<rect x="501.65" y="314.0" width="1.7" height="3.5" fill="#84d48c" stroke="#1c9c2c" stroke-width="0.62"/>
<line x1="504.7" y1="312.2" x2="504.7" y2="323.3" stroke="#222222" stroke-width="0.85"/>
<rect x="503.75" y="313.0" width="1.9" height="9.5" fill="#e6101e"/>
<line x1="507.0" y1="321.7" x2="507.0" y2="328.3" stroke="#222222" stroke-width="0.85"/>
<rect x="506.05" y="322.5" width="1.9" height="5.0" fill="#e6101e"/>
<line x1="509.2" y1="325.0" x2="509.2" y2="335.8" stroke="#222222" stroke-width="0.85"/>
<rect x="508.25" y="325.8" width="1.9" height="9.2" fill="#e6101e"/>
<line x1="511.3" y1="333.2" x2="511.3" y2="337.5" stroke="#222222" stroke-width="0.85"/>
<rect x="510.35" y="334.0" width="1.9" height="2.7" fill="#e6101e"/>
<line x1="513.3" y1="334.2" x2="513.3" y2="343.3" stroke="#222222" stroke-width="0.85"/>
<rect x="512.35" y="335.0" width="1.9" height="5.0" fill="#e6101e"/>
<line x1="515.5" y1="325.8" x2="515.5" y2="334.1" stroke="#222222" stroke-width="0.85"/>
<rect x="514.65" y="329.0" width="1.7" height="4.3" fill="#84d48c" stroke="#1c9c2c" stroke-width="0.62"/>
<line x1="517.8" y1="325.0" x2="517.8" y2="334.1" stroke="#222222" stroke-width="0.85"/>
<rect x="516.85" y="328.3" width="1.9" height="5.0" fill="#e6101e"/>
<line x1="520.0" y1="330.0" x2="520.0" y2="334.1" stroke="#222222" stroke-width="0.85"/>
<rect x="519.15" y="330.8" width="1.7" height="2.5" fill="#84d48c" stroke="#1c9c2c" stroke-width="0.62"/>
<line x1="522.2" y1="317.5" x2="522.2" y2="332.5" stroke="#222222" stroke-width="0.85"/>
<rect x="521.35" y="318.3" width="1.7" height="13.4" fill="#84d48c" stroke="#1c9c2c" stroke-width="0.62"/>
<line x1="524.2" y1="317.5" x2="524.2" y2="320.8" stroke="#222222" stroke-width="0.85"/>
<rect x="523.35" y="318.3" width="1.7" height="1.7" fill="#84d48c" stroke="#1c9c2c" stroke-width="0.62"/>
<line x1="526.3" y1="312.5" x2="526.3" y2="316.6" stroke="#222222" stroke-width="0.85"/>
<rect x="525.45" y="313.3" width="1.7" height="2.5" fill="#84d48c" stroke="#1c9c2c" stroke-width="0.62"/>
<line x1="528.7" y1="308.2" x2="528.7" y2="314.8" stroke="#222222" stroke-width="0.85"/>
<rect x="527.85" y="309.0" width="1.7" height="5.0" fill="#84d48c" stroke="#1c9c2c" stroke-width="0.62"/>
<line x1="530.8" y1="303.2" x2="530.8" y2="310.8" stroke="#222222" stroke-width="0.85"/>
<rect x="529.95" y="304.0" width="1.7" height="6.0" fill="#84d48c" stroke="#1c9c2c" stroke-width="0.62"/>
<line x1="533.0" y1="300.9" x2="533.0" y2="305.8" stroke="#222222" stroke-width="0.85"/>
<rect x="532.15" y="301.7" width="1.7" height="3.3" fill="#84d48c" stroke="#1c9c2c" stroke-width="0.62"/>
<line x1="535.0" y1="294.2" x2="535.0" y2="303.3" stroke="#222222" stroke-width="0.85"/>
<rect x="534.15" y="295.0" width="1.7" height="7.5" fill="#84d48c" stroke="#1c9c2c" stroke-width="0.62"/>
<line x1="537.2" y1="293.2" x2="537.2" y2="296.6" stroke="#222222" stroke-width="0.85"/>
<rect x="536.35" y="294.0" width="1.7" height="1.8" fill="#84d48c" stroke="#1c9c2c" stroke-width="0.62"/>
<line x1="539.2" y1="292.5" x2="539.2" y2="295.8" stroke="#222222" stroke-width="0.85"/>
<rect x="538.35" y="293.3" width="1.7" height="1.7" fill="#84d48c" stroke="#1c9c2c" stroke-width="0.62"/>
<line x1="541.3" y1="293.2" x2="541.3" y2="299.8" stroke="#222222" stroke-width="0.85"/>
<rect x="540.35" y="294.0" width="1.9" height="5.0" fill="#e6101e"/>
<line x1="543.3" y1="300.9" x2="543.3" y2="304.5" stroke="#222222" stroke-width="0.85"/>
<rect x="542.35" y="301.7" width="1.9" height="2.0" fill="#e6101e"/>
<line x1="545.8" y1="301.7" x2="545.8" y2="308.3" stroke="#222222" stroke-width="0.85"/>
<rect x="544.85" y="303.3" width="1.9" height="0.9" fill="#e6101e"/>
<line x1="547.8" y1="298.2" x2="547.8" y2="304.1" stroke="#222222" stroke-width="0.85"/>
<rect x="546.95" y="299.0" width="1.7" height="4.3" fill="#84d48c" stroke="#1c9c2c" stroke-width="0.62"/>
<line x1="550.0" y1="297.5" x2="550.0" y2="302.5" stroke="#222222" stroke-width="0.85"/>
<rect x="549.15" y="298.3" width="1.7" height="3.4" fill="#84d48c" stroke="#1c9c2c" stroke-width="0.62"/>
<line x1="552.0" y1="296.7" x2="552.0" y2="301.6" stroke="#222222" stroke-width="0.85"/>
<rect x="551.15" y="297.5" width="1.7" height="3.3" fill="#84d48c" stroke="#1c9c2c" stroke-width="0.62"/>
<line x1="554.5" y1="294.2" x2="554.5" y2="300.0" stroke="#222222" stroke-width="0.85"/>
<rect x="553.65" y="295.0" width="1.7" height="2.5" fill="#84d48c" stroke="#1c9c2c" stroke-width="0.62"/>
<line x1="556.6" y1="292.5" x2="556.6" y2="296.6" stroke="#222222" stroke-width="0.85"/>
<rect x="555.75" y="293.3" width="1.7" height="2.5" fill="#84d48c" stroke="#1c9c2c" stroke-width="0.62"/>
<line x1="558.8" y1="290.9" x2="558.8" y2="294.8" stroke="#222222" stroke-width="0.85"/>
<rect x="557.95" y="291.7" width="1.7" height="2.3" fill="#84d48c" stroke="#1c9c2c" stroke-width="0.62"/>
<line x1="560.8" y1="288.2" x2="560.8" y2="292.5" stroke="#222222" stroke-width="0.85"/>
<rect x="559.95" y="289.0" width="1.7" height="2.7" fill="#84d48c" stroke="#1c9c2c" stroke-width="0.62"/>
<line x1="563.0" y1="288.2" x2="563.0" y2="294.1" stroke="#222222" stroke-width="0.85"/>
<rect x="562.05" y="289.0" width="1.9" height="4.3" fill="#e6101e"/>
<line x1="565.0" y1="287.5" x2="565.0" y2="293.3" stroke="#222222" stroke-width="0.85"/>
<rect x="564.15" y="288.3" width="1.7" height="4.2" fill="#84d48c" stroke="#1c9c2c" stroke-width="0.62"/>
<line x1="567.2" y1="283.9" x2="567.2" y2="287.5" stroke="#222222" stroke-width="0.85"/>
<rect x="566.35" y="284.7" width="1.7" height="2.0" fill="#84d48c" stroke="#1c9c2c" stroke-width="0.62"/>
<line x1="569.5" y1="283.9" x2="569.5" y2="288.3" stroke="#222222" stroke-width="0.85"/>
<rect x="568.55" y="284.7" width="1.9" height="2.8" fill="#e6101e"/>
<line x1="571.3" y1="284.2" x2="571.3" y2="292.5" stroke="#222222" stroke-width="0.85"/>
<rect x="570.35" y="285.0" width="1.9" height="6.7" fill="#e6101e"/>
<line x1="573.7" y1="288.2" x2="573.7" y2="294.1" stroke="#222222" stroke-width="0.85"/>
<rect x="572.95" y="289.0" width="1.5" height="4.3" fill="#222"/>
<line x1="575.5" y1="286.7" x2="575.5" y2="291.6" stroke="#222222" stroke-width="0.85"/>
<rect x="574.65" y="287.5" width="1.7" height="3.3" fill="#84d48c" stroke="#1c9c2c" stroke-width="0.62"/>
<line x1="577.8" y1="281.7" x2="577.8" y2="289.1" stroke="#222222" stroke-width="0.85"/>
<rect x="576.95" y="282.5" width="1.7" height="5.8" fill="#84d48c" stroke="#1c9c2c" stroke-width="0.62"/>
<line x1="580.0" y1="276.7" x2="580.0" y2="282.5" stroke="#222222" stroke-width="0.85"/>
<rect x="579.15" y="277.5" width="1.7" height="4.2" fill="#84d48c" stroke="#1c9c2c" stroke-width="0.62"/>
<line x1="582.0" y1="275.9" x2="582.0" y2="279.1" stroke="#222222" stroke-width="0.85"/>
<rect x="581.25" y="276.7" width="1.5" height="1.6" fill="#222"/>
<line x1="584.0" y1="275.8" x2="584.0" y2="280.0" stroke="#222222" stroke-width="0.85"/>
<rect x="583.25" y="276.5" width="1.5" height="1.0" fill="#222"/>
<line x1="586.3" y1="275.8" x2="586.3" y2="282.5" stroke="#222222" stroke-width="0.85"/>
<rect x="585.55" y="276.0" width="1.5" height="1.5" fill="#222"/>
<line x1="588.7" y1="273.2" x2="588.7" y2="277.5" stroke="#222222" stroke-width="0.85"/>
<rect x="587.85" y="274.0" width="1.7" height="2.7" fill="#84d48c" stroke="#1c9c2c" stroke-width="0.62"/>
<line x1="590.8" y1="275.0" x2="590.8" y2="284.8" stroke="#222222" stroke-width="0.85"/>
<rect x="589.85" y="275.8" width="1.9" height="8.2" fill="#e6101e"/>
<line x1="593.0" y1="279.2" x2="593.0" y2="284.8" stroke="#222222" stroke-width="0.85"/>
<rect x="592.05" y="280.0" width="1.9" height="4.0" fill="#e6101e"/>
<line x1="595.0" y1="276.7" x2="595.0" y2="284.8" stroke="#222222" stroke-width="0.85"/>
<rect x="594.15" y="277.5" width="1.7" height="6.5" fill="#84d48c" stroke="#1c9c2c" stroke-width="0.62"/>
<line x1="597.2" y1="280.9" x2="597.2" y2="284.8" stroke="#222222" stroke-width="0.85"/>
<rect x="596.25" y="281.7" width="1.9" height="2.3" fill="#e6101e"/>
<line x1="599.2" y1="280.0" x2="599.2" y2="283.3" stroke="#222222" stroke-width="0.85"/>
<rect x="598.45" y="280.8" width="1.5" height="1.7" fill="#222"/>
<line x1="601.3" y1="273.3" x2="601.3" y2="281.6" stroke="#222222" stroke-width="0.85"/>
<rect x="600.55" y="277.0" width="1.5" height="3.8" fill="#222"/>
<line x1="603.3" y1="267.2" x2="603.3" y2="279.8" stroke="#222222" stroke-width="0.85"/>
<rect x="602.45" y="268.0" width="1.7" height="11.0" fill="#84d48c" stroke="#1c9c2c" stroke-width="0.62"/>
<line x1="605.5" y1="262.5" x2="605.5" y2="276.6" stroke="#222222" stroke-width="0.85"/>
<rect x="604.55" y="267.5" width="1.9" height="8.3" fill="#e6101e"/>
<line x1="607.8" y1="269.2" x2="607.8" y2="283.8" stroke="#222222" stroke-width="0.85"/>
<rect x="606.95" y="270.0" width="1.7" height="13.0" fill="#84d48c" stroke="#1c9c2c" stroke-width="0.62"/>
<line x1="610.0" y1="262.5" x2="610.0" y2="269.8" stroke="#222222" stroke-width="0.85"/>
<rect x="609.15" y="263.3" width="1.7" height="5.7" fill="#84d48c" stroke="#1c9c2c" stroke-width="0.62"/>
<line x1="612.2" y1="260.9" x2="612.2" y2="265.8" stroke="#222222" stroke-width="0.85"/>
<rect x="611.35" y="261.7" width="1.7" height="3.3" fill="#84d48c" stroke="#1c9c2c" stroke-width="0.62"/>
<line x1="614.5" y1="256.7" x2="614.5" y2="263.8" stroke="#222222" stroke-width="0.85"/>
<rect x="613.65" y="257.5" width="1.7" height="5.5" fill="#84d48c" stroke="#1c9c2c" stroke-width="0.62"/>
<line x1="616.7" y1="258.2" x2="616.7" y2="271.6" stroke="#222222" stroke-width="0.85"/>
<rect x="615.75" y="259.0" width="1.9" height="11.8" fill="#e6101e"/>
<line x1="618.8" y1="259.2" x2="618.8" y2="270.8" stroke="#222222" stroke-width="0.85"/>
<rect x="617.95" y="260.0" width="1.7" height="10.0" fill="#84d48c" stroke="#1c9c2c" stroke-width="0.62"/>
<line x1="620.8" y1="256.7" x2="620.8" y2="261.6" stroke="#222222" stroke-width="0.85"/>
<rect x="619.95" y="257.5" width="1.7" height="3.3" fill="#84d48c" stroke="#1c9c2c" stroke-width="0.62"/>
<line x1="623.0" y1="253.2" x2="623.0" y2="259.1" stroke="#222222" stroke-width="0.85"/>
<rect x="622.15" y="254.0" width="1.7" height="4.3" fill="#84d48c" stroke="#1c9c2c" stroke-width="0.62"/>
<line x1="625.3" y1="250.0" x2="625.3" y2="257.5" stroke="#222222" stroke-width="0.85"/>
<rect x="624.45" y="250.8" width="1.7" height="5.9" fill="#84d48c" stroke="#1c9c2c" stroke-width="0.62"/>
<line x1="627.5" y1="248.2" x2="627.5" y2="252.5" stroke="#222222" stroke-width="0.85"/>
<rect x="626.65" y="249.0" width="1.7" height="2.7" fill="#84d48c" stroke="#1c9c2c" stroke-width="0.62"/>
<line x1="629.5" y1="245.0" x2="629.5" y2="250.8" stroke="#222222" stroke-width="0.85"/>
<rect x="628.65" y="245.8" width="1.7" height="4.2" fill="#84d48c" stroke="#1c9c2c" stroke-width="0.62"/>
<line x1="631.7" y1="244.2" x2="631.7" y2="255.8" stroke="#222222" stroke-width="0.85"/>
<rect x="630.75" y="245.0" width="1.9" height="10.0" fill="#e6101e"/>
<line x1="633.8" y1="253.2" x2="633.8" y2="263.3" stroke="#222222" stroke-width="0.85"/>
<rect x="632.85" y="254.0" width="1.9" height="8.5" fill="#e6101e"/>
<line x1="636.2" y1="245.0" x2="636.2" y2="263.3" stroke="#222222" stroke-width="0.85"/>
<rect x="635.35" y="245.8" width="1.7" height="16.7" fill="#84d48c" stroke="#1c9c2c" stroke-width="0.62"/>
<line x1="638.0" y1="241.7" x2="638.0" y2="254.8" stroke="#222222" stroke-width="0.85"/>
<rect x="637.05" y="242.5" width="1.9" height="11.5" fill="#e6101e"/>
<line x1="640.0" y1="246.7" x2="640.0" y2="254.1" stroke="#222222" stroke-width="0.85"/>
<rect x="639.15" y="247.5" width="1.7" height="5.8" fill="#84d48c" stroke="#1c9c2c" stroke-width="0.62"/>
<line x1="642.2" y1="244.5" x2="642.2" y2="248.3" stroke="#222222" stroke-width="0.85"/>
<rect x="641.35" y="245.3" width="1.7" height="2.2" fill="#84d48c" stroke="#1c9c2c" stroke-width="0.62"/>
<line x1="644.5" y1="245.0" x2="644.5" y2="251.6" stroke="#222222" stroke-width="0.85"/>
<rect x="643.55" y="245.8" width="1.9" height="5.0" fill="#e6101e"/>
<line x1="646.7" y1="250.0" x2="646.7" y2="258.3" stroke="#222222" stroke-width="0.85"/>
<rect x="645.75" y="250.8" width="1.9" height="6.7" fill="#e6101e"/>
<line x1="648.7" y1="255.9" x2="648.7" y2="265.0" stroke="#222222" stroke-width="0.85"/>
<rect x="647.75" y="256.7" width="1.9" height="3.3" fill="#e6101e"/>
<line x1="650.8" y1="257.5" x2="650.8" y2="261.6" stroke="#222222" stroke-width="0.85"/>
<rect x="649.85" y="258.3" width="1.9" height="2.5" fill="#e6101e"/>
<line x1="653.0" y1="258.2" x2="653.0" y2="263.3" stroke="#222222" stroke-width="0.85"/>
<rect x="652.05" y="259.0" width="1.9" height="3.5" fill="#e6101e"/>
<line x1="655.0" y1="258.2" x2="655.0" y2="262.5" stroke="#222222" stroke-width="0.85"/>
<rect x="654.05" y="259.0" width="1.9" height="2.7" fill="#e6101e"/>
<line x1="657.2" y1="250.9" x2="657.2" y2="264.8" stroke="#222222" stroke-width="0.85"/>
<rect x="656.35" y="251.7" width="1.7" height="12.3" fill="#84d48c" stroke="#1c9c2c" stroke-width="0.62"/>
<line x1="659.5" y1="239.7" x2="659.5" y2="249.1" stroke="#222222" stroke-width="0.85"/>
<rect x="658.65" y="244.0" width="1.7" height="4.3" fill="#84d48c" stroke="#1c9c2c" stroke-width="0.62"/>
<line x1="661.7" y1="241.0" x2="661.7" y2="246.6" stroke="#222222" stroke-width="0.85"/>
<rect x="660.75" y="244.0" width="1.9" height="1.8" fill="#e6101e"/>
<line x1="663.8" y1="243.2" x2="663.8" y2="247.5" stroke="#222222" stroke-width="0.85"/>
<rect x="662.85" y="244.0" width="1.9" height="2.7" fill="#e6101e"/>
<line x1="665.8" y1="242.5" x2="665.8" y2="249.1" stroke="#222222" stroke-width="0.85"/>
<rect x="664.85" y="243.3" width="1.9" height="5.0" fill="#e6101e"/>
<line x1="667.8" y1="246.7" x2="667.8" y2="255.8" stroke="#222222" stroke-width="0.85"/>
<rect x="666.85" y="247.5" width="1.9" height="7.5" fill="#e6101e"/>
<line x1="670.0" y1="246.7" x2="670.0" y2="257.0" stroke="#222222" stroke-width="0.85"/>
<rect x="669.15" y="247.5" width="1.7" height="5.8" fill="#84d48c" stroke="#1c9c2c" stroke-width="0.62"/>
<line x1="672.5" y1="243.0" x2="672.5" y2="259.0" stroke="#222222" stroke-width="0.85"/>
<rect x="671.55" y="245.8" width="1.9" height="9.2" fill="#e6101e"/>
<line x1="674.5" y1="251.7" x2="674.5" y2="259.8" stroke="#222222" stroke-width="0.85"/>
<rect x="673.65" y="252.5" width="1.7" height="6.5" fill="#84d48c" stroke="#1c9c2c" stroke-width="0.62"/>
<line x1="676.7" y1="243.3" x2="676.7" y2="253.3" stroke="#222222" stroke-width="0.85"/>
<rect x="675.85" y="247.5" width="1.7" height="5.0" fill="#84d48c" stroke="#1c9c2c" stroke-width="0.62"/>
<line x1="678.8" y1="239.7" x2="678.8" y2="249.8" stroke="#222222" stroke-width="0.85"/>
<rect x="677.85" y="244.0" width="1.9" height="5.0" fill="#e6101e"/>
<line x1="681.2" y1="250.9" x2="681.2" y2="279.1" stroke="#222222" stroke-width="0.85"/>
<rect x="680.25" y="251.7" width="1.9" height="26.6" fill="#e6101e"/>
<line x1="683.3" y1="254.2" x2="683.3" y2="288.3" stroke="#222222" stroke-width="0.85"/>
<rect x="682.45" y="255.0" width="1.7" height="30.0" fill="#84d48c" stroke="#1c9c2c" stroke-width="0.62"/>
<line x1="685.3" y1="251.7" x2="685.3" y2="255.8" stroke="#222222" stroke-width="0.85"/>
<rect x="684.55" y="252.5" width="1.5" height="2.5" fill="#222"/>
<line x1="687.5" y1="246.7" x2="687.5" y2="263.3" stroke="#222222" stroke-width="0.85"/>
<rect x="686.65" y="247.5" width="1.7" height="9.2" fill="#84d48c" stroke="#1c9c2c" stroke-width="0.62"/>
<line x1="689.5" y1="238.2" x2="689.5" y2="246.6" stroke="#222222" stroke-width="0.85"/>
<rect x="688.65" y="239.0" width="1.7" height="6.8" fill="#84d48c" stroke="#1c9c2c" stroke-width="0.62"/>
<line x1="691.7" y1="234.2" x2="691.7" y2="240.8" stroke="#222222" stroke-width="0.85"/>
<rect x="690.85" y="235.0" width="1.7" height="5.0" fill="#84d48c" stroke="#1c9c2c" stroke-width="0.62"/>
<line x1="693.8" y1="221.7" x2="693.8" y2="235.0" stroke="#222222" stroke-width="0.85"/>
<rect x="692.95" y="222.5" width="1.7" height="6.5" fill="#84d48c" stroke="#1c9c2c" stroke-width="0.62"/>
<line x1="696.2" y1="220.9" x2="696.2" y2="224.1" stroke="#222222" stroke-width="0.85"/>
<rect x="695.25" y="221.7" width="1.9" height="1.6" fill="#e6101e"/>
<line x1="698.3" y1="215.0" x2="698.3" y2="221.6" stroke="#222222" stroke-width="0.85"/>
<rect x="697.45" y="215.8" width="1.7" height="5.0" fill="#84d48c" stroke="#1c9c2c" stroke-width="0.62"/>
<line x1="700.3" y1="207.2" x2="700.3" y2="215.8" stroke="#222222" stroke-width="0.85"/>
<rect x="699.45" y="208.0" width="1.7" height="7.0" fill="#84d48c" stroke="#1c9c2c" stroke-width="0.62"/>
<line x1="702.2" y1="206.7" x2="702.2" y2="212.5" stroke="#222222" stroke-width="0.85"/>
<rect x="701.25" y="207.5" width="1.9" height="4.2" fill="#e6101e"/>
<line x1="704.5" y1="209.2" x2="704.5" y2="214.8" stroke="#222222" stroke-width="0.85"/>
<rect x="703.75" y="210.0" width="1.5" height="4.0" fill="#222"/>
<line x1="706.7" y1="200.9" x2="706.7" y2="212.5" stroke="#222222" stroke-width="0.85"/>
<rect x="705.85" y="201.7" width="1.7" height="10.0" fill="#84d48c" stroke="#1c9c2c" stroke-width="0.62"/>
<line x1="708.8" y1="200.0" x2="708.8" y2="204.1" stroke="#222222" stroke-width="0.85"/>
<rect x="707.85" y="200.8" width="1.9" height="2.5" fill="#e6101e"/>
<line x1="710.8" y1="199.2" x2="710.8" y2="207.5" stroke="#222222" stroke-width="0.85"/>
<rect x="709.95" y="200.0" width="1.7" height="6.7" fill="#84d48c" stroke="#1c9c2c" stroke-width="0.62"/>
<line x1="713.3" y1="189.2" x2="713.3" y2="199.8" stroke="#222222" stroke-width="0.85"/>
<rect x="712.45" y="190.0" width="1.7" height="9.0" fill="#84d48c" stroke="#1c9c2c" stroke-width="0.62"/>
<line x1="715.3" y1="187.5" x2="715.3" y2="199.0" stroke="#222222" stroke-width="0.85"/>
<rect x="714.45" y="188.3" width="1.7" height="2.5" fill="#84d48c" stroke="#1c9c2c" stroke-width="0.62"/>
<line x1="717.5" y1="186.7" x2="717.5" y2="196.7" stroke="#222222" stroke-width="0.85"/>
<rect x="716.55" y="187.5" width="1.9" height="5.0" fill="#e6101e"/>
<line x1="719.7" y1="188.2" x2="719.7" y2="193.3" stroke="#222222" stroke-width="0.85"/>
<rect x="718.95" y="189.0" width="1.5" height="3.5" fill="#222"/>
<line x1="721.7" y1="190.0" x2="721.7" y2="194.1" stroke="#222222" stroke-width="0.85"/>
<rect x="720.75" y="190.8" width="1.9" height="2.5" fill="#e6101e"/>
<line x1="724.2" y1="190.0" x2="724.2" y2="195.8" stroke="#222222" stroke-width="0.85"/>
<rect x="723.35" y="190.8" width="1.7" height="2.5" fill="#84d48c" stroke="#1c9c2c" stroke-width="0.62"/>
<line x1="726.3" y1="187.5" x2="726.3" y2="192.5" stroke="#222222" stroke-width="0.85"/>
<rect x="725.45" y="188.3" width="1.7" height="3.4" fill="#84d48c" stroke="#1c9c2c" stroke-width="0.62"/>
<line x1="728.3" y1="187.5" x2="728.3" y2="193.3" stroke="#222222" stroke-width="0.85"/>
<rect x="727.35" y="188.3" width="1.9" height="2.5" fill="#e6101e"/>
<line x1="730.5" y1="185.0" x2="730.5" y2="193.3" stroke="#222222" stroke-width="0.85"/>
<rect x="729.65" y="185.8" width="1.7" height="3.2" fill="#84d48c" stroke="#1c9c2c" stroke-width="0.62"/>
<line x1="732.8" y1="181.7" x2="732.8" y2="188.3" stroke="#222222" stroke-width="0.85"/>
<rect x="731.95" y="182.5" width="1.7" height="5.0" fill="#84d48c" stroke="#1c9c2c" stroke-width="0.62"/>
<line x1="735.0" y1="178.2" x2="735.0" y2="184.8" stroke="#222222" stroke-width="0.85"/>
<rect x="734.15" y="179.0" width="1.7" height="5.0" fill="#84d48c" stroke="#1c9c2c" stroke-width="0.62"/>
<line x1="737.0" y1="174.2" x2="737.0" y2="180.8" stroke="#222222" stroke-width="0.85"/>
<rect x="736.15" y="175.0" width="1.7" height="5.0" fill="#84d48c" stroke="#1c9c2c" stroke-width="0.62"/>
<line x1="739.2" y1="170.0" x2="739.2" y2="180.8" stroke="#222222" stroke-width="0.85"/>
<rect x="738.25" y="174.0" width="1.9" height="6.0" fill="#e6101e"/>
<line x1="741.3" y1="174.2" x2="741.3" y2="182.5" stroke="#222222" stroke-width="0.85"/>
<rect x="740.55" y="175.0" width="1.5" height="6.7" fill="#222"/>
<line x1="743.3" y1="167.2" x2="743.3" y2="179.8" stroke="#222222" stroke-width="0.85"/>
<rect x="742.45" y="168.0" width="1.7" height="11.0" fill="#84d48c" stroke="#1c9c2c" stroke-width="0.62"/>
<line x1="745.5" y1="164.0" x2="745.5" y2="170.8" stroke="#222222" stroke-width="0.85"/>
<rect x="744.55" y="166.7" width="1.9" height="3.3" fill="#e6101e"/>
<line x1="747.8" y1="168.2" x2="747.8" y2="181.7" stroke="#222222" stroke-width="0.85"/>
<rect x="746.85" y="169.0" width="1.9" height="8.5" fill="#e6101e"/>
<line x1="750.0" y1="174.2" x2="750.0" y2="184.0" stroke="#222222" stroke-width="0.85"/>
<rect x="749.05" y="175.0" width="1.9" height="5.8" fill="#e6101e"/>
<line x1="752.2" y1="179.2" x2="752.2" y2="191.7" stroke="#222222" stroke-width="0.85"/>
<rect x="751.25" y="180.0" width="1.9" height="9.0" fill="#e6101e"/>
<line x1="754.2" y1="180.9" x2="754.2" y2="189.1" stroke="#222222" stroke-width="0.85"/>
<rect x="753.35" y="181.7" width="1.7" height="6.6" fill="#84d48c" stroke="#1c9c2c" stroke-width="0.62"/>
<line x1="756.2" y1="181.7" x2="756.2" y2="185.8" stroke="#222222" stroke-width="0.85"/>
<rect x="755.25" y="182.5" width="1.9" height="2.5" fill="#e6101e"/>
<line x1="758.3" y1="174.2" x2="758.3" y2="183.8" stroke="#222222" stroke-width="0.85"/>
<rect x="757.45" y="175.0" width="1.7" height="8.0" fill="#84d48c" stroke="#1c9c2c" stroke-width="0.62"/>
<line x1="760.5" y1="170.0" x2="760.5" y2="181.7" stroke="#222222" stroke-width="0.85"/>
<rect x="759.65" y="170.8" width="1.7" height="5.0" fill="#84d48c" stroke="#1c9c2c" stroke-width="0.62"/>
<line x1="762.5" y1="166.7" x2="762.5" y2="170.8" stroke="#222222" stroke-width="0.85"/>
<rect x="761.65" y="167.5" width="1.7" height="2.5" fill="#84d48c" stroke="#1c9c2c" stroke-width="0.62"/>
<line x1="764.5" y1="161.7" x2="764.5" y2="170.8" stroke="#222222" stroke-width="0.85"/>
<rect x="763.65" y="162.5" width="1.7" height="5.0" fill="#84d48c" stroke="#1c9c2c" stroke-width="0.62"/>
<line x1="767.0" y1="148.3" x2="767.0" y2="162.3" stroke="#222222" stroke-width="0.85"/>
<rect x="766.15" y="151.0" width="1.7" height="10.5" fill="#84d48c" stroke="#1c9c2c" stroke-width="0.62"/>
<line x1="769.2" y1="140.0" x2="769.2" y2="151.4" stroke="#222222" stroke-width="0.85"/>
<rect x="768.35" y="140.8" width="1.7" height="9.8" fill="#84d48c" stroke="#1c9c2c" stroke-width="0.62"/>
<line x1="771.3" y1="140.3" x2="771.3" y2="150.5" stroke="#222222" stroke-width="0.85"/>
<rect x="770.35" y="143.0" width="1.9" height="6.7" fill="#e6101e"/>
<line x1="773.5" y1="147.0" x2="773.5" y2="154.4" stroke="#222222" stroke-width="0.85"/>
<rect x="772.55" y="150.0" width="1.9" height="2.0" fill="#e6101e"/>
<line x1="775.6" y1="149.0" x2="775.6" y2="160.5" stroke="#222222" stroke-width="0.85"/>
<rect x="774.75" y="150.0" width="1.7" height="3.9" fill="#84d48c" stroke="#1c9c2c" stroke-width="0.62"/>
<line x1="777.7" y1="146.0" x2="777.7" y2="153.6" stroke="#222222" stroke-width="0.85"/>
<rect x="776.85" y="149.0" width="1.7" height="2.0" fill="#84d48c" stroke="#1c9c2c" stroke-width="0.62"/>
<line x1="779.9" y1="140.3" x2="779.9" y2="150.5" stroke="#222222" stroke-width="0.85"/>
<rect x="779.05" y="140.8" width="1.7" height="8.9" fill="#84d48c" stroke="#1c9c2c" stroke-width="0.62"/>
</g>
<path d="M100.6 263.8 L104.5 299.5 M97.0 293.5 L104.5 299.5 L111.0 291.5" fill="none" stroke="#e1162b" stroke-width="1.5" stroke-linecap="round" stroke-linejoin="round"/>
<path d="M442.3 264.7 L446.4 300.3 M438.5 294.2 L446.4 300.3 L453.3 292.4" fill="none" stroke="#e1162b" stroke-width="1.5" stroke-linecap="round" stroke-linejoin="round"/>
<path d="M487.7 264.0 L491.8 299.7 M483.6 293.3 L491.8 299.7 L498.5 291.4" fill="none" stroke="#e1162b" stroke-width="1.5" stroke-linecap="round" stroke-linejoin="round"/>
<path d="M633.7 196.9 L638.2 232.9 M630.1 226.3 L638.2 232.9 L644.4 224.9" fill="none" stroke="#e1162b" stroke-width="1.5" stroke-linecap="round" stroke-linejoin="round"/>
<path d="M668.1 198.0 L672.2 233.6 M664.2 227.0 L672.2 233.6 L678.8 225.6" fill="none" stroke="#e1162b" stroke-width="1.5" stroke-linecap="round" stroke-linejoin="round"/>
<path d="M741.1 119.0 L745.3 154.6 M737.2 148.0 L745.3 154.6 L752.0 146.3" fill="none" stroke="#e1162b" stroke-width="1.5" stroke-linecap="round" stroke-linejoin="round"/>
<path d="M549.9 346.7 L545.8 313.7 M539.2 322.0 L545.8 313.7 L553.7 320.0" fill="none" stroke="#18922a" stroke-width="1.5" stroke-linecap="round" stroke-linejoin="round"/>
<path d="M779.9 200.5 L775.3 167.5 M769.2 175.0 L775.3 167.5 L783.7 173.7" fill="none" stroke="#18922a" stroke-width="1.5" stroke-linecap="round" stroke-linejoin="round"/>
<path d="M788.4 138.5 L792.8 103.6 M784.4 110.0 L792.8 103.6 L799.0 112.0" fill="none" stroke="#18922a" stroke-width="1.5" stroke-linecap="round" stroke-linejoin="round"/>
<g font-size="30px" font-weight="bold" fill="#12339f" stroke="#12339f" stroke-width="0.45">
<text transform="translate(283.5 16.8) scale(0.898 1)" x="0" y="0">Aerospace</text>
<text transform="translate(427.1 16.8) scale(0.880 1)" x="0" y="0">&amp;</text>
<text transform="translate(452.0 16.8) scale(0.904 1)" x="0" y="0">Defense</text>
<text transform="translate(563.3 16.8) scale(0.837 1)" x="0" y="0">ETF</text>
<text transform="translate(617.7 16.8) scale(1.125 1)" x="0" y="0">-</text>
<text transform="translate(636.0 16.8) scale(0.931 1)" x="0" y="0">$ITA</text>
</g>
<text x="482.2" y="44.7" text-anchor="middle" font-size="16px" font-weight="bold" letter-spacing="0.35" fill="#12339f">Weekly</text>
<text class="ax" transform="translate(899.3 7.8) scale(1.05 1)" x="0" y="0">440.00</text>
<text class="ax" transform="translate(899.3 51.5) scale(1.05 1)" x="0" y="0">365.00</text>
<text class="ax" transform="translate(899.3 93.1) scale(1.05 1)" x="0" y="0">305.00</text>
<text class="ax" transform="translate(899.3 186.7) scale(1.05 1)" x="0" y="0">205.00</text>
<text class="ax" transform="translate(899.3 223.1) scale(1.05 1)" x="0" y="0">175.00</text>
<text class="ax" transform="translate(899.3 267.3) scale(1.05 1)" x="0" y="0">145.00</text>
<text class="ax" transform="translate(899.3 302.2) scale(1.05 1)" x="0" y="0">125.00</text>
<text class="ax" transform="translate(899.3 342.8) scale(1.05 1)" x="0" y="0">105.00</text>
<text class="ax" transform="translate(899.3 381.3) scale(1.05 1)" x="0" y="0">89.00</text>
<text class="ax" transform="translate(899.3 427.3) scale(1.05 1)" x="0" y="0">73.00</text>
<text class="ax" transform="translate(899.3 469.1) scale(1.05 1)" x="0" y="0">61.00</text>
<text class="ax" transform="translate(899.3 506.3) scale(1.05 1)" x="0" y="0">52.00</text>
<rect x="890.4" y="131.4" width="59.8" height="19.1" fill="#12961f"/>
<text transform="translate(899.3 146.1) scale(1.05 1)" x="0" y="0" font-size="14.2px" fill="#ffffff">243.49</text>
<text class="yr" x="94.5" y="549" text-anchor="middle">2020</text>
<text class="yr" x="206.2" y="549" text-anchor="middle">2021</text>
<text class="yr" x="318.1" y="549" text-anchor="middle">2022</text>
<text class="yr" x="430.0" y="549" text-anchor="middle">2023</text>
<text class="yr" x="541.5" y="549" text-anchor="middle">2024</text>
<text class="yr" x="655.5" y="549" text-anchor="middle">2025</text>
<text class="yr" x="767.0" y="549" text-anchor="middle">2026</text>
<text class="yr" x="877.5" y="549" text-anchor="middle">2027</text>
<g>
<rect x="685.7" y="503.7" width="19.3" height="15" fill="#92c5ee"/>
<path d="M686.5 519.3 L699 519.3 L698.8 523.2 Z" fill="#1d2230"/>
<path d="M688.1 510.3 L690 506.7 L692.5 515.8 L697.1 507.3 L699.3 510.6 L703.1 501.4" fill="none" stroke="#15181f" stroke-width="1.25" stroke-linejoin="miter"/>
<text transform="translate(712.6 518.8) scale(1.012 1)" x="0" y="0" font-size="20.8px" font-weight="bold" fill="#23262d" style="font-family:'Liberation Serif',serif;">The Chart Report</text>
</g>
<rect x="0" y="0" width="7.15" height="540" fill="#212121"/>
<rect x="953.2" y="0" width="6.8" height="540" fill="#212121"/>
</svg></body></html>
